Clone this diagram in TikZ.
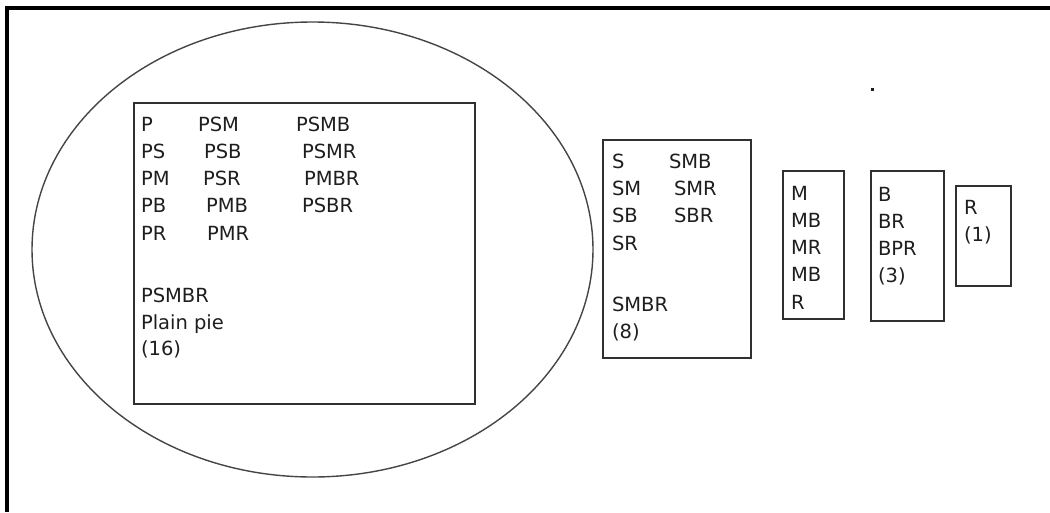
\documentclass[tikz,border=0pt]{standalone}
\usepackage{fontspec}
\newfontfamily\lblfont{DejaVu Sans}
\definecolor{txtgray}{HTML}{1E1E1E}
\definecolor{boxgray}{HTML}{303030}
\definecolor{ellgray}{HTML}{454545}
\tikzset{
  lbl/.style={anchor=base west, inner sep=0pt, outer sep=0pt, text=txtgray, font=\lblfont\fontsize{19.5}{23}\selectfont},
  setbox/.style={draw=boxgray, line width=1.4pt},
  frameline/.style={draw=black, line width=4pt}
}
\begin{document}
\begin{tikzpicture}[x=1pt,y=-1pt]
\useasboundingbox (0,0) rectangle (1050,512);
% frame (top and left only)
\draw[frameline] (5,8) -- (1050,8);
\draw[frameline] (7,6) -- (7,512);
% ellipse
\draw[draw=ellgray, line width=1.4pt] (312.5,249.5) ellipse [x radius=280.5pt, y radius=227.5pt];
% boxes
\draw[setbox] (134,103) rectangle (475,404);
\draw[setbox] (603,140) rectangle (751,358);
\draw[setbox] (783,171) rectangle (844,319);
\draw[setbox] (871,171) rectangle (944,321);
\draw[setbox] (956,186) rectangle (1011,286);
% stray dot
\fill[txtgray] (870.5,87.5) rectangle (873.5,90.5);
% big box text
\node[lbl] (p1) at (141,131) {P};
\node[lbl] (p2) at (198,131) {PSM};
\node[lbl] (p3) at (296,131) {PSMB};
\node[lbl] (p4) at (141,158) {PS};
\node[lbl] (p5) at (204,158) {PSB};
\node[lbl] (p6) at (302,158) {PSMR};
\node[lbl] (p7) at (141,185) {PM};
\node[lbl] (p8) at (203,185) {PSR};
\node[lbl] (p9) at (304,185) {PMBR};
\node[lbl] (p10) at (141,212) {PB};
\node[lbl] (p11) at (206,212) {PMB};
\node[lbl] (p12) at (302,212) {PSBR};
\node[lbl] (p13) at (141,240) {PR};
\node[lbl] (p14) at (207,240) {PMR};
\node[lbl] (p15) at (141,302) {PSMBR};
\node[lbl] (p16) at (141,329) {Plain pie};
\node[lbl] (p17) at (141,355) {(16)};
% S box text
\node[lbl] (s1) at (612,168) {S};
\node[lbl] (s2) at (669,168) {SMB};
\node[lbl] (s3) at (612,195) {SM};
\node[lbl] (s4) at (674,195) {SMR};
\node[lbl] (s5) at (612,222) {SB};
\node[lbl] (s6) at (674,222) {SBR};
\node[lbl] (s7) at (612,250) {SR};
\node[lbl] (s8) at (612,311) {SMBR};
\node[lbl] (s9) at (612,338) {(8)};
% M box text
\node[lbl] (m1) at (791,200) {M};
\node[lbl] (m2) at (791,227) {MB};
\node[lbl] (m3) at (791,254) {MR};
\node[lbl] (m4) at (791,281) {MB};
\node[lbl] (m5) at (791,309) {R};
% B box text
\node[lbl] (b1) at (878,201) {B};
\node[lbl] (b2) at (878,228) {BR};
\node[lbl] (b3) at (878,255) {BPR};
\node[lbl] (b4) at (878,282) {(3)};
% R box text
\node[lbl] (r1) at (964,214) {R};
\node[lbl] (r2) at (964,241) {(1)};
\end{tikzpicture}
\end{document}
